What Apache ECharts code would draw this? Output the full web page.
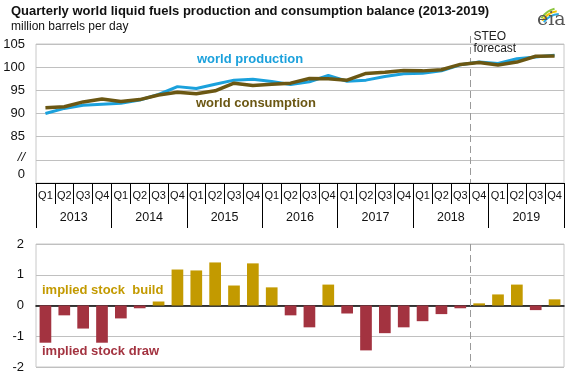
<!DOCTYPE html>
<html>
<head>
<meta charset="utf-8">
<script src="https://cdn.jsdelivr.net/npm/echarts@6/dist/echarts.min.js"></script>
<style>
  html, body { margin: 0; padding: 0; background: #fff; }
  #chart { width: 576px; height: 375px; }
</style>
</head>
<body>
<div id="chart"></div>
<script>
// quarters 2013 Q1 .. 2019 Q4
const years = ['2013', '2014', '2015', '2016', '2017', '2018', '2019'];
const quarters = [];
for (let y of years) {
  quarters.push('Q1', 'Q2', 'Q3', 'Q4');
}
// million barrels per day
const production = [90.0, 91.1, 91.8, 92.0, 92.2, 92.9, 94.1, 95.8,
  95.4, 96.3, 97.2, 97.4, 96.9, 96.25, 96.85, 98.2,
  96.95, 97.2, 98.0, 98.6, 98.7, 99.2, 100.5, 101.1,
  100.8, 101.8, 102.2, 102.6];
const consumption = [91.25, 91.45, 92.5, 93.15, 92.6, 93.0, 94.0, 94.6,
  94.25, 94.9, 96.55, 96.05, 96.3, 96.55, 97.55, 97.5,
  97.2, 98.65, 98.9, 99.3, 99.2, 99.45, 100.6, 101.0,
  100.45, 101.1, 102.35, 102.4];
// implied stock change
const stockChange = [-1.21, -0.32, -0.75, -1.21, -0.42, -0.09, 0.13, 1.17,
  1.14, 1.40, 0.65, 1.37, 0.59, -0.32, -0.71, 0.68,
  -0.26, -1.46, -0.90, -0.71, -0.51, -0.28, -0.09, 0.07,
  0.36, 0.68, -0.15, 0.20];
const forecastStart = 23; // 2018 Q4

const FONT = '"Liberation Sans", Arial, sans-serif';
const BLUE = '#1ba1dc';
const OLIVE = '#6b5713';
const GOLD = '#c39a00';
const RED = '#a33340';

let myChart = echarts.init(document.getElementById('chart'));

let option = {
  animation: false,
  textStyle: { fontFamily: FONT },
  title: [
    {
      text: 'Quarterly world liquid fuels production and consumption balance (2013-2019)',
      left: 6, top: 0,
      textStyle: { fontSize: 13, fontWeight: 'bold', color: '#111', fontFamily: FONT }
    },
    {
      text: 'million barrels per day',
      left: 6, top: 16,
      textStyle: { fontSize: 12, fontWeight: 'normal', color: '#111', fontFamily: FONT }
    }
  ],
  grid: [
    { left: 36, right: 12, top: 44, bottom: 192, show: true, borderColor: '#c8c8c8', borderWidth: 1 },
    { left: 36, right: 12, top: 244, bottom: 8, show: true, borderColor: '#c8c8c8', borderWidth: 1 }
  ],
  xAxis: [
    {
      gridIndex: 0, type: 'category', data: quarters, boundaryGap: true,
      axisLine: { lineStyle: { color: '#000', width: 1 } },
      axisTick: { show: true, interval: 0, length: 21, lineStyle: { color: '#000' } },
      axisLabel: { interval: 0, margin: 7, fontSize: 11, color: '#111' }
    },
    {
      gridIndex: 0, type: 'category', data: years, position: 'bottom',
      axisLine: { show: false },
      axisTick: { show: true, interval: 0, length: 45, lineStyle: { color: '#000' } },
      axisLabel: { interval: 0, margin: 28, fontSize: 12.5, color: '#111' }
    },
    {
      gridIndex: 1, type: 'category', data: quarters,
      axisLine: { onZero: true, lineStyle: { color: '#000', width: 1.5 } },
      axisTick: { show: false },
      axisLabel: { show: false }
    }
  ],
  yAxis: [
    {
      gridIndex: 0, type: 'value', min: 75, max: 105, interval: 5,
      axisLine: { show: false }, axisTick: { show: false },
      splitLine: { lineStyle: { color: '#c0c0c0' } },
      axisLabel: {
        margin: 11, fontSize: 13, color: '#111',
        // broken axis: 80 is the "//" gap, the bottom stands for 0
        formatter: function (v) {
          if (v === 80) return '{b|//}';
          if (v === 75) return '{z|0}';
          return v;
        },
        rich: {
          b: { fontSize: 13, fontStyle: 'italic', color: '#111', padding: [0, 0, 5, 0] },
          z: { fontSize: 13, color: '#111', padding: [0, 0, 18, 0] }
        }
      }
    },
    {
      gridIndex: 1, type: 'value', min: -2, max: 2, interval: 1,
      axisLine: { show: false }, axisTick: { show: false },
      splitLine: { lineStyle: { color: '#c0c0c0' } },
      axisLabel: { margin: 12, fontSize: 13, color: '#111' }
    }
  ],
  series: [
    {
      name: 'world production', type: 'line', xAxisIndex: 0, yAxisIndex: 0,
      data: production, symbol: 'none', smooth: false,
      lineStyle: { color: BLUE, width: 3 }, z: 3
    },
    {
      name: 'world consumption', type: 'line', xAxisIndex: 0, yAxisIndex: 0,
      data: consumption, symbol: 'none',
      lineStyle: { color: OLIVE, width: 3.5 }, z: 4
    },
    {
      name: 'implied stock change', type: 'bar', xAxisIndex: 2, yAxisIndex: 1,
      data: stockChange, barCategoryGap: '38%',
      itemStyle: {
        color: function (p) { return p.value >= 0 ? GOLD : RED; }
      }
    }
  ]
};
myChart.setOption(option);

// dashed forecast divider, placed on the category boundary
let xa = myChart.convertToPixel({ xAxisIndex: 0 }, forecastStart - 1);
let xb = myChart.convertToPixel({ xAxisIndex: 0 }, forecastStart);
let xd = Math.round((xa + xb) / 2) + 0.5;
let top0 = myChart.convertToPixel({ yAxisIndex: 0 }, 105);
let bot0 = myChart.convertToPixel({ yAxisIndex: 0 }, 75);
let top1 = myChart.convertToPixel({ yAxisIndex: 1 }, 2);
let bot1 = myChart.convertToPixel({ yAxisIndex: 1 }, -2);
let dash = { stroke: '#9a9a9a', lineWidth: 1, lineDash: [7, 4] };

myChart.setOption({
  graphic: [
    { type: 'line', shape: { x1: xd, y1: top0 - 8, x2: xd, y2: bot0 }, style: dash, z: 1 },
    { type: 'line', shape: { x1: xd, y1: top1, x2: xd, y2: bot1 }, style: dash, z: 1 },
    { type: 'text', left: xd + 3, top: 31, style: { text: 'STEO', font: '12px ' + FONT, fill: '#222' } },
    { type: 'text', left: xd + 3, top: 43, style: { text: 'forecast', font: '12px ' + FONT, fill: '#222' } },
    // series labels
    { type: 'text', left: 197, top: 53, style: { text: 'world production', font: 'bold 13px ' + FONT, fill: BLUE } },
    { type: 'text', left: 196, top: 97, style: { text: 'world consumption', font: 'bold 13px ' + FONT, fill: OLIVE } },
    { type: 'text', left: 42, top: 284, style: { text: 'implied stock  build', font: 'bold 13px ' + FONT, fill: GOLD } },
    { type: 'text', left: 42, top: 345, style: { text: 'implied stock draw', font: 'bold 13px ' + FONT, fill: RED } },
    // eia logo
    { type: 'arc', shape: { cx: 560, cy: 30, r: 22, startAngle: Math.PI * 1.18, endAngle: Math.PI * 1.42 }, style: { stroke: '#8dc63f', lineWidth: 2, fill: null } },
    { type: 'arc', shape: { cx: 560, cy: 32, r: 21, startAngle: Math.PI * 1.18, endAngle: Math.PI * 1.45 }, style: { stroke: '#f2c500', lineWidth: 2, fill: null } },
    { type: 'arc', shape: { cx: 560, cy: 34, r: 20, startAngle: Math.PI * 1.2, endAngle: Math.PI * 1.48 }, style: { stroke: '#2aa9e0', lineWidth: 2, fill: null } },
    { type: 'text', left: 537, top: 11, style: { text: 'eia', font: '19px "DejaVu Serif", serif', fill: '#555' } }
  ]
});
</script>
</body>
</html>
